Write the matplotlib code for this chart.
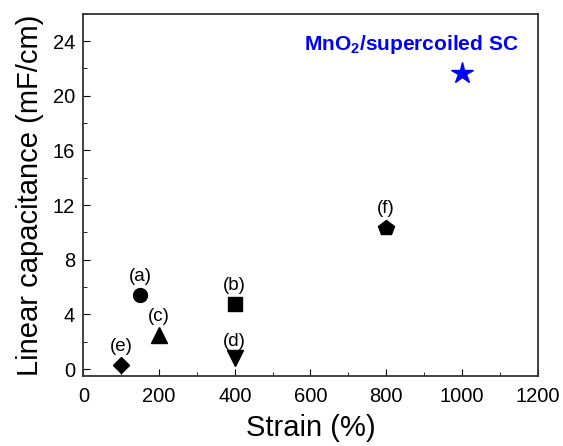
import matplotlib.pyplot as plt
from matplotlib.ticker import MultipleLocator

plt.rcParams['font.family'] = ['Liberation Sans', 'DejaVu Sans']
plt.rcParams['mathtext.fontset'] = 'custom'
plt.rcParams['mathtext.rm'] = 'Liberation Sans'
plt.rcParams['mathtext.bf'] = 'Liberation Sans:bold'

# literature devices (a)-(f): strain (%) vs linear capacitance (mF/cm)
labels = ['(a)', '(b)', '(c)', '(d)', '(e)', '(f)']
strain = [150, 400, 200, 400, 100, 800]
capacitance = [5.4, 4.8, 2.5, 0.8, 0.3, 10.3]
markers = ['o', 's', '^', 'v', 'D', 'p']
label_dy = [1.4, 1.3, 1.35, 1.25, 1.35, 1.45]

# this work
ours_strain = 1000
ours_cap = 21.7

fig, ax = plt.subplots(figsize=(5.63, 4.46), dpi=100)
fig.subplots_adjust(left=0.148, right=0.955, top=0.969, bottom=0.157)

sizes = {'o': 10, 's': 9.5, '^': 11, 'v': 11, 'D': 8.5, 'p': 11.5}
for x, y, m, lab, dy in zip(strain, capacitance, markers, labels, label_dy):
    ax.plot(x, y, marker=m, color='black', markersize=sizes[m], linestyle='none')
    ax.text(x, y + dy, lab, ha='center', va='center', fontsize=13.5)

ax.plot(ours_strain, ours_cap, marker='*', color='#0000ff', markersize=16,
        linestyle='none')
ax.text(866, 23.75, 'MnO$_\\mathbf{2}$/supercoiled SC', color='#0000ff',
        fontsize=15, fontweight='bold', ha='center', va='center')

ax.set_xlim(0, 1200)
ax.set_ylim(-0.5, 26)
ax.xaxis.set_major_locator(MultipleLocator(200))
ax.xaxis.set_minor_locator(MultipleLocator(100))
ax.yaxis.set_major_locator(MultipleLocator(4))
ax.yaxis.set_minor_locator(MultipleLocator(2))
ax.tick_params(which='both', direction='in', labelsize=14.5)
ax.tick_params(which='major', length=5)
ax.tick_params(which='minor', length=3)
ax.tick_params(axis='x', pad=8)
ax.tick_params(axis='y', pad=6)

ax.set_xlabel('Strain (%)', fontsize=21, labelpad=6)
ax.set_ylabel('Linear capacitance (mF/cm)', fontsize=21, labelpad=6)
for s in ax.spines.values():
    s.set_linewidth(1.3)
    s.set_color('#333333')

plt.savefig('out.png')
